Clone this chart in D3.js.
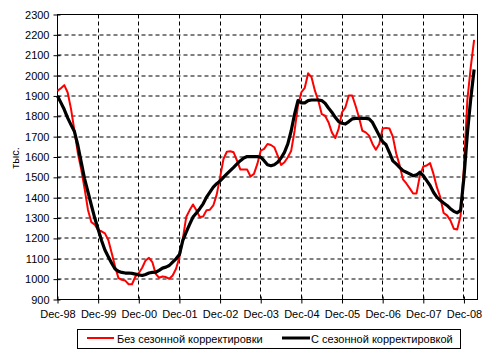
<!DOCTYPE html>
<html><head><meta charset="utf-8">
<script src="https://cdn.jsdelivr.net/npm/d3@7"></script>
<style>
body{margin:0;background:#fff;}
svg{display:block;font-family:"Liberation Sans",Arial,sans-serif;}
</style></head>
<body>
<svg id="c" width="493" height="360"></svg>
<script>
const tickLabels = ["Dec-98","Dec-99","Dec-00","Dec-01","Dec-02","Dec-03","Dec-04","Dec-05","Dec-06","Dec-07","Dec-08"];
const yTicks = [900,1000,1100,1200,1300,1400,1500,1600,1700,1800,1900,2000,2100,2200,2300];
const seriesNames = ["Без сезонной корректировки","С сезонной корректировкой"];
const yLabel = "тыс.";
const rawSeries = [
1925,1938,1953,1917,1835,1730,1620,1540,1445,1340,1280,1268,
1240,1235,1225,1192,1128,1062,1005,997,993,975,975,1013,
1030,1056,1092,1105,1084,1026,1007,1013,1010,1002,1018,1051,
1108,1198,1305,1338,1367,1338,1305,1308,1338,1341,1362,1415,
1500,1590,1626,1628,1623,1582,1538,1538,1538,1504,1517,1566,
1631,1640,1664,1659,1648,1607,1561,1574,1599,1631,1729,1852,
1918,1940,2011,1992,1926,1877,1811,1803,1771,1721,1693,1738,
1820,1844,1902,1902,1852,1795,1729,1721,1705,1664,1636,1664,
1740,1743,1740,1700,1617,1560,1490,1470,1446,1421,1421,1510,
1553,1558,1570,1517,1452,1403,1325,1313,1289,1248,1244,1310,
1550,1880,2040,2175];
const adjSeries = [
1900,1867,1833,1792,1758,1725,1658,1575,1493,1428,1363,1300,
1245,1190,1143,1110,1078,1050,1038,1033,1030,1030,1028,1025,
1021,1018,1023,1030,1033,1034,1043,1054,1059,1067,1084,1100,
1121,1190,1231,1269,1305,1325,1346,1370,1403,1428,1452,1469,
1482,1500,1517,1533,1549,1566,1582,1595,1602,1602,1602,1602,
1599,1582,1562,1557,1562,1574,1595,1623,1664,1729,1811,1877,
1866,1866,1877,1880,1880,1880,1877,1864,1841,1820,1795,1774,
1766,1762,1774,1787,1790,1790,1790,1790,1787,1770,1738,1705,
1675,1660,1622,1581,1566,1549,1533,1525,1517,1508,1512,1525,
1508,1484,1460,1427,1403,1387,1374,1362,1346,1333,1326,1338,
1500,1713,1885,2030];

const svg = d3.select("#c");
const L=57.5, R=477.5, T=14.5, B=299.5;
const x = d3.scaleLinear().domain([0,124]).range([L,R]);
const y = d3.scaleLinear().domain([900,2300]).range([B,T]);
const tickIdx = tickLabels.map((d,i)=>i*12);

// grid
const g = svg.append("g");
g.selectAll("line.hg").data(yTicks.filter(v=>v>900 && v<2300)).join("line")
 .attr("x1",L).attr("x2",R).attr("y1",d=>Math.round(y(d))+0.5-0.5).attr("y2",d=>Math.round(y(d))+0.5-0.5)
 .attr("stroke","#000").attr("stroke-width",1).attr("stroke-dasharray","4,3");
g.selectAll("line.vg").data(tickIdx.slice(1)).join("line")
 .attr("x1",d=>Math.round(x(d)-0.5)+0.5).attr("x2",d=>Math.round(x(d)-0.5)+0.5).attr("y1",T).attr("y2",B)
 .attr("stroke","#000").attr("stroke-width",1).attr("stroke-dasharray","4,3");

// border
svg.append("rect").attr("x",L).attr("y",T).attr("width",R-L).attr("height",B-T)
 .attr("fill","none").attr("stroke","#000").attr("stroke-width",1);

// axes
const yAxis = d3.axisLeft(y).tickValues(yTicks).tickSize(4).tickSizeInner(4).tickFormat(d3.format("d")).tickPadding(4);
const ya = svg.append("g").attr("transform",`translate(${L},0)`).call(yAxis);
ya.select(".domain").remove();
ya.selectAll("text").attr("font-size",11).attr("font-family","Liberation Sans, Arial, sans-serif").attr("fill","#000");
ya.selectAll(".tick line").attr("x2",-4).attr("x1",3).attr("stroke","#000");

const xAxis = d3.axisBottom(x).tickValues(tickIdx).tickFormat((d,i)=>tickLabels[i]).tickSize(3).tickPadding(8);
const xa = svg.append("g").attr("transform",`translate(0,${B})`).call(xAxis);
xa.select(".domain").remove();
xa.selectAll(".tick line").attr("y1",-3).attr("y2",4).attr("stroke","#000");
xa.selectAll("text").attr("font-size",11).attr("font-family","Liberation Sans, Arial, sans-serif").attr("fill","#000");

// y label
svg.append("text").attr("transform","translate(18.5,158) rotate(-90)")
 .attr("text-anchor","middle").attr("font-size",11).text(yLabel);

// lines
const line = d3.line().x((d,i)=>x(i)).y(d=>y(d));
svg.append("path").datum(rawSeries).attr("d",line).attr("fill","none")
 .attr("stroke","#ff0000").attr("stroke-width",2).attr("stroke-linejoin","round");
svg.append("path").datum(adjSeries).attr("d",line).attr("fill","none")
 .attr("stroke","#000").attr("stroke-width",3.2).attr("stroke-linejoin","round");

// legend
const lg = svg.append("g");
lg.append("rect").attr("x",77.5).attr("y",329.5).attr("width",383).attr("height",19)
 .attr("fill","#fff").attr("stroke","#000").attr("stroke-width",1);
lg.append("line").attr("x1",87).attr("x2",114).attr("y1",338).attr("y2",338).attr("stroke","#ff0000").attr("stroke-width",2);
lg.append("text").attr("x",117).attr("y",342.5).attr("font-size",11).text(seriesNames[0]);
lg.append("line").attr("x1",282).attr("x2",310).attr("y1",338).attr("y2",338).attr("stroke","#000").attr("stroke-width",3);
lg.append("text").attr("x",311).attr("y",342.5).attr("font-size",11).text(seriesNames[1]);
</script>
</body></html>
